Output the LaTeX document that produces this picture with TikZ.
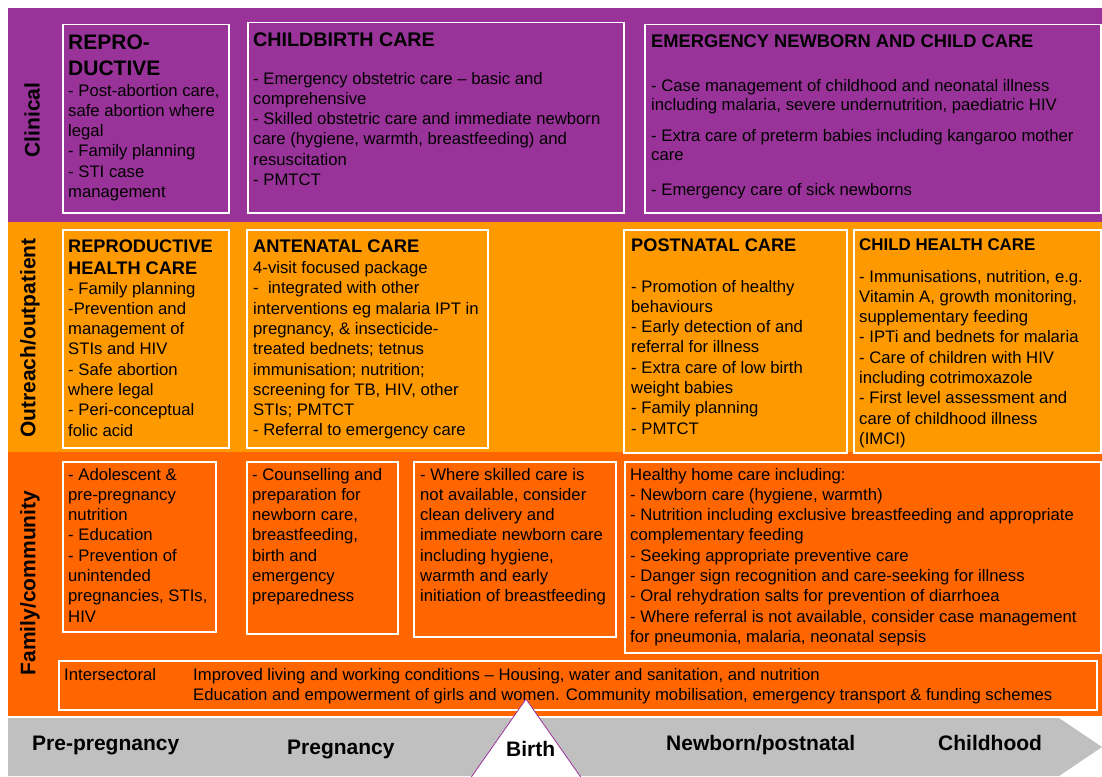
\documentclass[tikz,border=0pt]{standalone}
\usepackage{fontspec}
\setmainfont{Liberation Sans}
\definecolor{purp}{HTML}{993399}
\definecolor{lor}{HTML}{FF9900}
\definecolor{dor}{HTML}{FF6600}
\definecolor{gry}{HTML}{C0C0C0}
\newcommand\bodyf{\fontsize{16.7}{20.3}\selectfont}
\newcommand\hd[2]{\bfseries\fontsize{#1}{#2}\selectfont}
\newcommand\tx[2]{\parbox[t]{#1}{\bodyf #2}}
\newcommand\hx[4]{\parbox[t]{#1}{\hd{#2}{#3}#4}}
\tikzset{
  box/.style={draw=white, line width=1.5pt, inner sep=0pt, anchor=north west},
  txt/.style={inner sep=0pt, anchor=base west, text=black},
  side/.style={rotate=90, inner sep=0pt, font=\hd{21}{25}, text=black},
  phase/.style={inner sep=0pt, anchor=base west, font=\hd{21}{25}, text=black}
}
\begin{document}
\begin{tikzpicture}[x=1pt,y=-1pt]
\useasboundingbox (0,0) rectangle (1102,776);
\clip (0,0) rectangle (1102,776);
% bands
\fill[purp] (8,8) rectangle (1102,222);
\fill[lor] (8,222) rectangle (1102,452);
\fill[dor] (8,452) rectangle (1102,716);
% side labels
\node[side] (sClin) at (32,120) {Clinical};
\node[side] (sOut) at (30,338) {Outreach/outpatient};
\node[side] (sFam) at (30,583) {Family/community};
% ---- clinical
\node[box, minimum width=166pt, minimum height=188pt] (cRep) at (62,24) {};
\node[txt] (cRepH) at (68,50) {\hx{160pt}{21}{25.5}{REPRO-\\DUCTIVE}};
\node[txt] (cRepT) at (68,96) {\tx{160pt}{- Post-abortion care,\\safe abortion where\\legal\\- Family planning\\- STI case\\management}};
\node[box, minimum width=376pt, minimum height=190pt] (cBir) at (247,22) {};
\node[txt] (cBirH) at (253,47) {\hx{370pt}{19.7}{24}{CHILDBIRTH CARE}};
\node[txt] (cBirT) at (253,84) {\tx{370pt}{- Emergency obstetric care – basic and\\comprehensive\\- Skilled obstetric care and immediate newborn\\care (hygiene, warmth, breastfeeding) and\\resuscitation\\- PMTCT}};
\node[box, minimum width=456pt, minimum height=188pt] (cEme) at (644,24) {};
\node[txt] (cEmeH) at (651,48) {\hx{450pt}{18.3}{22}{EMERGENCY NEWBORN AND CHILD CARE}};
\node[txt] (cEmeT) at (651,91) {\parbox[t]{450pt}{\fontsize{16.7}{20}\selectfont - Case management of childhood and neonatal illness\\including malaria, severe undernutrition, paediatric HIV\\[10pt]- Extra care of preterm babies including kangaroo mother\\care\\[14pt]- Emergency care of sick newborns}};
% ---- outreach
\node[box, minimum width=166pt, minimum height=218pt] (oRep) at (62,229) {};
\node[txt] (oRepH) at (68,252) {\hx{160pt}{18.2}{22}{REPRODUCTIVE\\HEALTH CARE}};
\node[txt] (oRepT) at (68,294) {\tx{160pt}{- Family planning\\-Prevention and\\management of\\STIs and HIV\\- Safe abortion\\where legal\\- Peri-conceptual\\folic acid}};
\node[box, minimum width=241pt, minimum height=218pt] (oAnt) at (246,229) {};
\node[txt] (oAntH) at (253,252) {\hx{235pt}{18.3}{22}{ANTENATAL CARE}};
\node[txt] (oAntT) at (253,273.5) {\tx{235pt}{4-visit focused package\\-\ \ integrated with other\\interventions eg malaria IPT in\\pregnancy, \& insecticide-\\treated bednets; tetnus\\immunisation; nutrition;\\screening for TB, HIV, other\\STIs; PMTCT\\- Referral to emergency care}};
\node[box, minimum width=223pt, minimum height=223pt] (oPos) at (623,229) {};
\node[txt] (oPosH) at (631,251) {\hx{215pt}{18.2}{22}{POSTNATAL CARE}};
\node[txt] (oPosT) at (631,292) {\tx{215pt}{- Promotion of healthy\\behaviours\\- Early detection of and\\referral for illness\\- Extra care of low birth\\weight babies\\- Family planning\\- PMTCT}};
\node[box, minimum width=247pt, minimum height=223pt] (oChi) at (853,229) {};
\node[txt] (oChiH) at (859,250) {\hx{240pt}{16.9}{20}{CHILD HEALTH CARE}};
\node[txt] (oChiT) at (859,282) {\tx{240pt}{- Immunisations, nutrition, e.g.\\Vitamin A, growth monitoring,\\supplementary feeding\\- IPTi and bednets for malaria\\- Care of children with HIV\\including cotrimoxazole\\- First level assessment and\\care of childhood illness\\(IMCI)}};
% ---- family / community
\node[box, minimum width=153pt, minimum height=170pt] (fAdo) at (62,461) {};
\node[txt] (fAdoT) at (68,480) {\tx{150pt}{- Adolescent \&\\pre-pregnancy\\nutrition\\- Education\\- Prevention of\\unintended\\pregnancies, STIs,\\HIV}};
\node[box, minimum width=151pt, minimum height=172pt] (fCou) at (246,461) {};
\node[txt] (fCouT) at (252,480) {\tx{150pt}{- Counselling and\\preparation for\\newborn care,\\breastfeeding,\\birth and\\emergency\\preparedness}};
\node[box, minimum width=202pt, minimum height=175pt] (fSki) at (413,461) {};
\node[txt] (fSkiT) at (420,480) {\tx{200pt}{- Where skilled care is\\not available, consider\\clean delivery and\\immediate newborn care\\including hygiene,\\warmth and early\\initiation of breastfeeding}};
\node[box, minimum width=476pt, minimum height=191pt] (fHom) at (624,461) {};
\node[txt] (fHomT) at (630,480) {\tx{470pt}{Healthy home care including:\\- Newborn care (hygiene, warmth)\\- Nutrition including exclusive breastfeeding and appropriate\\complementary feeding\\- Seeking appropriate preventive care\\- Danger sign recognition and care-seeking for illness\\- Oral rehydration salts for prevention of diarrhoea\\- Where referral is not available, consider case management\\for pneumonia, malaria, neonatal sepsis}};
\node[box, minimum width=1038pt, minimum height=49pt] (fInt) at (58,660) {};
\node[txt] (fIntL) at (64,680) {\bodyf Intersectoral};
\node[txt] (fIntT) at (193,680) {\parbox[t]{900pt}{\fontsize{16.7}{20}\selectfont Improved living and working conditions – Housing, water and sanitation, and nutrition\\Education and empowerment of girls and women. Community mobilisation, emergency transport \& funding schemes}};
% ---- timeline arrow
\fill[gry] (8,718) -- (1059,718) -- (1102,747) -- (1059,776) -- (8,776) -- cycle;
\filldraw[fill=white, draw=purp, line width=0.8pt] (526,699) -- (458,796) -- (594,796) -- cycle;
\node[phase] (pPre) at (32,750) {Pre-pregnancy};
\node[phase] (pPreg) at (287,754) {Pregnancy};
\node[phase] (pBir) at (506,756) {Birth};
\node[phase] (pNew) at (666,750) {Newborn/postnatal};
\node[phase] (pChi) at (938,750) {Childhood};
\end{tikzpicture}
\end{document}
